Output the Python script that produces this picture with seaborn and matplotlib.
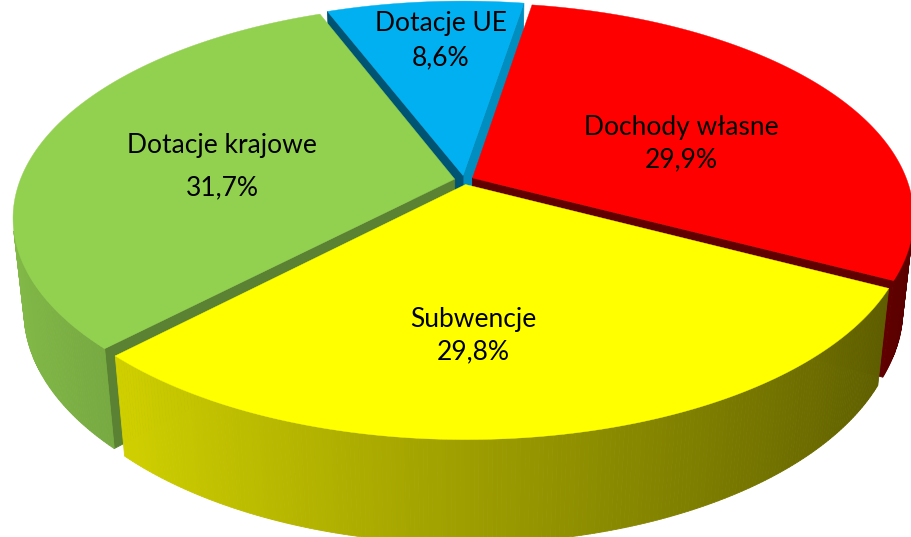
import numpy as np
import matplotlib
matplotlib.use("Agg")
import matplotlib.pyplot as plt
from matplotlib.patches import Polygon
from matplotlib.colors import to_rgb
import seaborn as sns

# ---------------- data ----------------
categories = ["Dochody własne", "Subwencje", "Dotacje krajowe", "Dotacje UE"]
shares = [29.9, 29.8, 31.7, 8.6]
share_labels = ["29,9%", "29,8%", "31,7%", "8,6%"]

# ---------------- style ----------------
slice_colors = ["#FF0000", "#FFFF00", "#92D050", "#00B0F0"]
radial_shade_start = [0.55, 0.55, 0.62, 0.48]
radial_shade_end = [0.38, 0.55, 0.55, 0.80]
# label centres (pixels): name line, value line
name_pos = [(681, 127), (473, 320), (222, 145), (441, 23)]
value_pos = [(681, 160), (473, 352), (222, 188), (441, 58)]

sns.set_theme(style="white")
plt.rcParams['font.family'] = ['Lato', 'DejaVu Sans']

W, H = 911, 537
fig = plt.figure(figsize=(W / 100, H / 100), dpi=100)
ax = fig.add_axes([0, 0, 1, 1])
ax.set_xlim(0, W)
ax.set_ylim(H, 0)
ax.axis('off')

# ---------------- 3D projection ----------------
elev = np.radians(28.5)
c, s = np.cos(elev), np.sin(elev)
L = 4.88          # camera distance (in radii)
k = 2120          # scale
cx, cy = 464, 180
thick = 0.245
explode = 0.022
rotation = 9.5
cam = np.array([0.0, -L * c, L * s])


def proj(X, Y, Z):
    X = np.asarray(X, float); Y = np.asarray(Y, float); Z = np.asarray(Z, float)
    depth = L + c * Y - s * Z
    return cx + k * X / depth, cy - k * (s * Y + c * Z) / depth, depth


def shade(col, f):
    r, g, b = to_rgb(col)
    return (r * f, g * f, b * f)


side_faces = []   # (depth, xy, color)
tops = []

angles = np.cumsum([0] + [v / sum(shares) * 360 for v in shares]) + rotation
for i in range(len(shares)):
    a0, a1 = angles[i], angles[i + 1]
    am = np.radians((a0 + a1) / 2)
    ox, oy = explode * np.sin(am), explode * np.cos(am)
    t = np.radians(np.linspace(a0, a1, max(int(a1 - a0) * 2, 4)))
    rx, ry = ox + np.sin(t), oy + np.cos(t)

    # top face
    X = np.concatenate([[ox], rx]); Y = np.concatenate([[oy], ry])
    px, py, _ = proj(X, Y, np.zeros_like(X))
    tops.append((np.column_stack([px, py]), slice_colors[i]))

    # outer curved side, split into strips for shading
    for j in range(len(t) - 1):
        tm = (t[j] + t[j + 1]) / 2
        n = np.array([np.sin(tm), np.cos(tm), 0.0])
        P = np.array([ox + np.sin(tm), oy + np.cos(tm), -thick / 2])
        if n @ (cam - P) <= 0:
            continue
        Xs = [rx[j], rx[j + 1], rx[j + 1], rx[j]]
        Ys = [ry[j], ry[j + 1], ry[j + 1], ry[j]]
        Zs = [0, 0, -thick, -thick]
        qx, qy, d = proj(Xs, Ys, Zs)
        f = 0.62 - 0.28 * np.sin(tm)
        side_faces.append((d.mean(), np.column_stack([qx, qy]), shade(slice_colors[i], f)))

    # radial faces
    for ang, nang, fshade in [(a0, a0 - 90, radial_shade_start[i]), (a1, a1 + 90, radial_shade_end[i])]:
        ar, nr = np.radians(ang), np.radians(nang)
        n = np.array([np.sin(nr), np.cos(nr), 0.0])
        ex, ey = ox + np.sin(ar), oy + np.cos(ar)
        P = np.array([(ox + ex) / 2, (oy + ey) / 2, -thick / 2])
        if n @ (cam - P) <= 0:
            continue
        Xs = [ox, ex, ex, ox]; Ys = [oy, ey, ey, oy]; Zs = [0, 0, -thick, -thick]
        qx, qy, d = proj(Xs, Ys, Zs)
        side_faces.append((d.mean(), np.column_stack([qx, qy]), shade(slice_colors[i], fshade)))

for d, xy, col in sorted(side_faces, key=lambda q: -q[0]):
    ax.add_patch(Polygon(xy, closed=True, facecolor=col, edgecolor=col, linewidth=0.6, antialiased=True))
for xy, col in tops:
    ax.add_patch(Polygon(xy, closed=True, facecolor=col, edgecolor=col, linewidth=0.3))

fs = 19
for i in range(len(shares)):
    ax.text(*name_pos[i], categories[i], ha='center', va='center', fontsize=fs, color='black')
    ax.text(*value_pos[i], share_labels[i], ha='center', va='center', fontsize=fs, color='black')

fig.savefig("out.png", dpi=100, facecolor='white')
